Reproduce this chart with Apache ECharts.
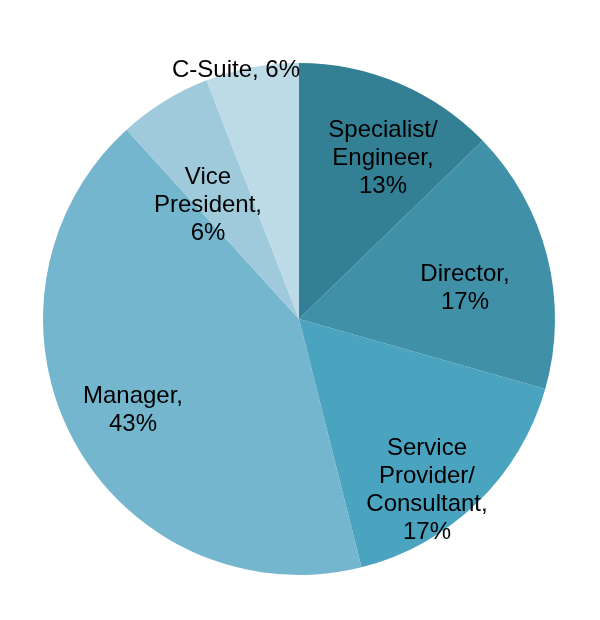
<!DOCTYPE html>
<html>
<head>
<meta charset="utf-8">
<script src="https://cdn.jsdelivr.net/npm/echarts@6/dist/echarts.min.js"></script>
<style>html,body{margin:0;background:#fff}#chart{width:600px;height:620px}</style>
</head>
<body>
<div id="chart"></div>
<script>
const names = ['Specialist/\nEngineer', 'Director', 'Service\nProvider/\nConsultant', 'Manager', 'Vice\nPresident', 'C-Suite'];
const values = [13, 17, 17, 43, 6, 6];
const colors = ['#337f93', '#4090a8', '#4aa3bf', '#74b6ce', '#9fcadb', '#bddbe6'];
// label centres (px)
const labelPos = [[383, 158], [465, 288], [427, 490], [133, 410], [208, 205], [236, 70]];

const myChart = echarts.init(document.getElementById('chart'));
myChart.setOption({
    animation: false,
    series: [{
        type: 'pie',
        center: [299, 319],
        radius: 256,
        startAngle: 90,
        clockwise: true,
        data: names.map(function (n, i) {
            return {name: n, value: values[i], itemStyle: {color: colors[i]}};
        }),
        label: {
            position: 'inside',
            color: '#000',
            fontFamily: 'Liberation Sans, Arial',
            fontSize: 24,
            lineHeight: 28,
            formatter: function (p) {
                if (p.dataIndex === 5) return 'C-Suite, ' + p.value + '%';
                return p.name + ',\n' + p.value + '%';
            }
        },
        labelLine: {show: false},
        labelLayout: function (p) {
            const pos = labelPos[p.dataIndex];
            return {x: pos[0], y: pos[1], align: 'center', verticalAlign: 'middle'};
        },
        emphasis: {disabled: true}
    }]
});
</script>
</body>
</html>
